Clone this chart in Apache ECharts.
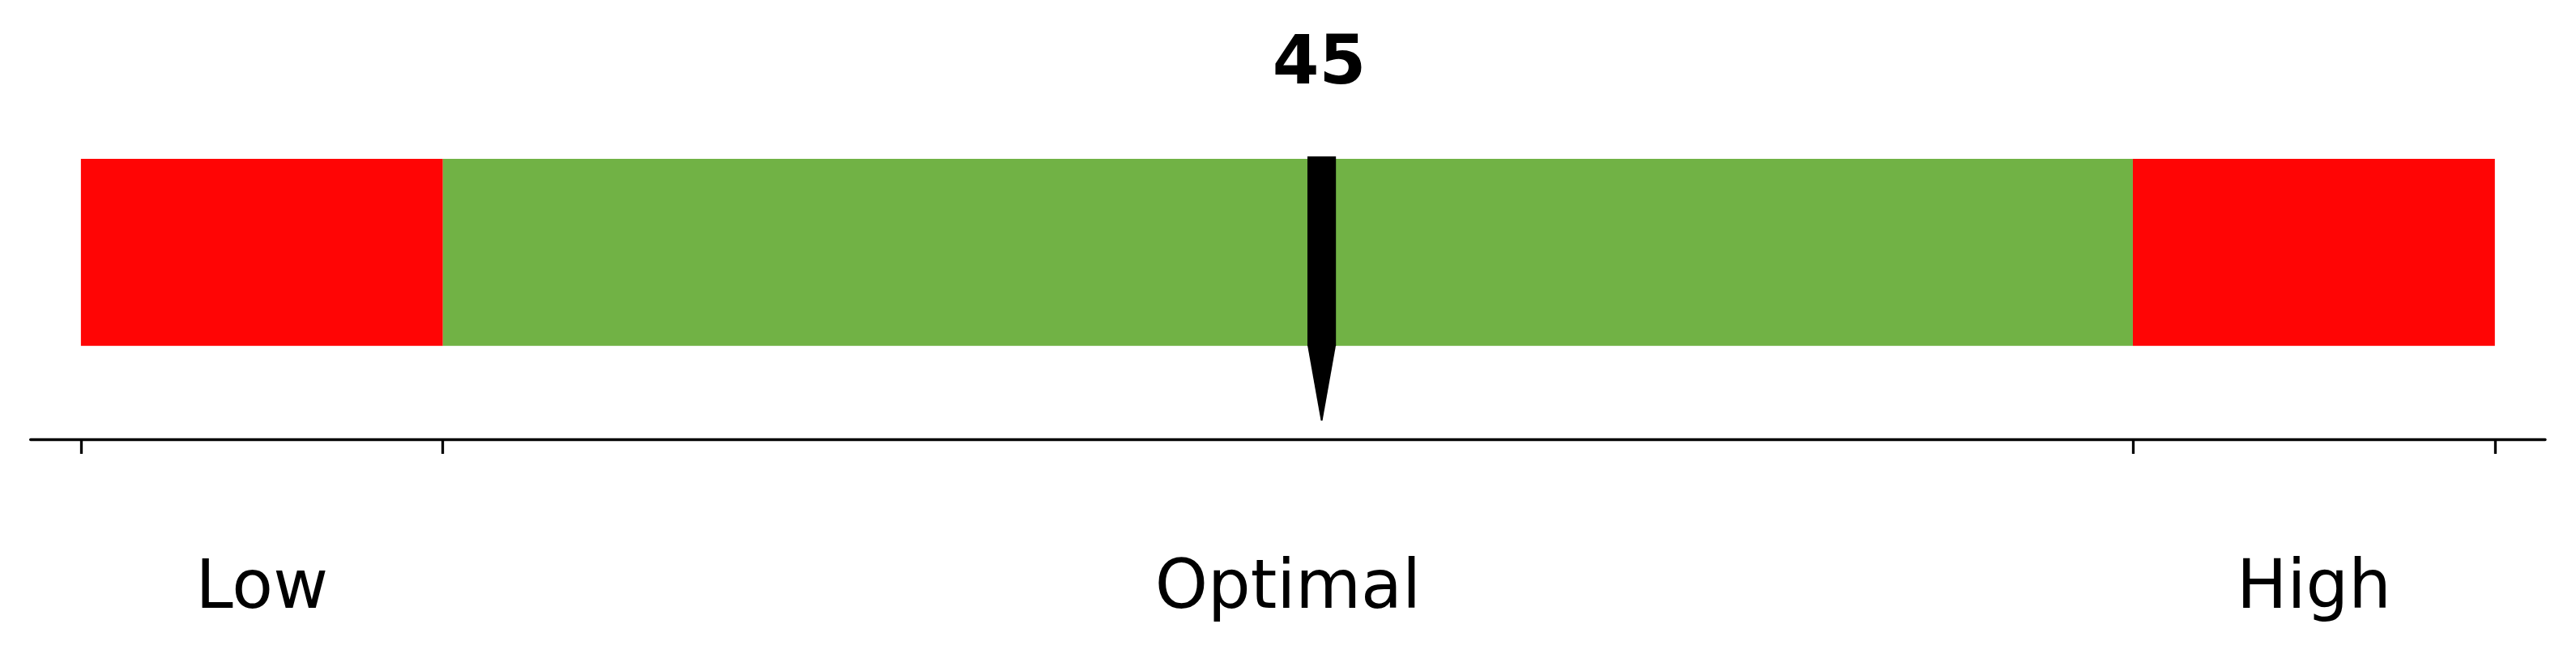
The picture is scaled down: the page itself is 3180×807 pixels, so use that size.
<!DOCTYPE html>
<html><head><meta charset="utf-8">
<script src="https://cdn.jsdelivr.net/npm/echarts@6/dist/echarts.min.js"></script>
<style>html,body{margin:0;padding:0;background:#fff}#c{width:3180px;height:807px}</style>
</head><body><div id="c"></div>
<script>
// ---- data ----
const bandNames = ['Low', 'Optimal', 'High'];
const bandEdges = [8.29, 19, 69, 79.71];
const currentValue = 45;
const axisMin = 6.8;
const axisMax = 81.2;

// ---- styles ----
const bandColors = ['#ff0505', '#71b245', '#ff0505'];
const FONT = 'DejaVu Sans';

const bandData = bandNames.map((n, i) => [bandEdges[i], bandEdges[i + 1], i]);
const bandCenters = bandNames.map((n, i) => (bandEdges[i] + bandEdges[i + 1]) / 2);

const chart = echarts.init(document.getElementById('c'), null, {renderer: 'canvas'});
chart.setOption({
  animation: false,
  backgroundColor: '#fff',
  grid: {left: 37.7, right: 38, top: 0, bottom: 265, containLabel: false},
  xAxis: {
    type: 'value', min: axisMin, max: axisMax, position: 'bottom',
    splitLine: {show: false},
    axisLine: {show: true, onZero: false, lineStyle: {color: '#000', width: 3.3}},
    axisTick: {show: true, customValues: bandEdges, length: 18, lineStyle: {color: '#000', width: 3.3}},
    axisLabel: {
      show: true, customValues: bandCenters, margin: 145,
      fontSize: 83, fontFamily: FONT, color: '#000',
      formatter: function (v) {
        let best = 0, bd = Infinity;
        bandCenters.forEach((c, i) => { const d = Math.abs(c - v); if (d < bd) { bd = d; best = i; } });
        return bandNames[best];
      }
    }
  },
  yAxis: {type: 'value', min: -0.5, max: 1.85, show: false},
  series: [
    {
      type: 'custom',
      clip: false,
      data: bandData,
      renderItem: function (params, api) {
        const p0 = api.coord([api.value(0), 1]);
        const p1 = api.coord([api.value(1), 0]);
        return {
          type: 'rect',
          shape: {x: p0[0], y: p0[1], width: p1[0] - p0[0], height: p1[1] - p0[1]},
          style: {fill: bandColors[api.value(2)]}
        };
      }
    },
    {
      type: 'custom',
      clip: false,
      data: [[currentValue]],
      renderItem: function (params, api) {
        const v = api.value(0);
        const top = api.coord([v, 1]);
        const base = api.coord([v, 0]);
        const tip = api.coord([v, -0.4]);
        const hw = 17.6;
        const x = top[0];
        return {
          type: 'group',
          children: [
            {type: 'rect', shape: {x: x - hw, y: top[1] - 3, width: hw * 2, height: base[1] - top[1] + 3}, style: {fill: '#000'}},
            {type: 'polygon', shape: {points: [[x - hw, base[1] - 1], [x + hw, base[1] - 1], [x + 1, tip[1]], [x - 1, tip[1]]]}, style: {fill: '#000'}},
            {type: 'text', x: x - 3, y: top[1] - 115,
             style: {text: String(v), fontSize: 83, fontWeight: 'bold', fontFamily: FONT, fill: '#000', align: 'center', verticalAlign: 'middle'}}
          ]
        };
      }
    }
  ]
});
</script>
</body></html>
